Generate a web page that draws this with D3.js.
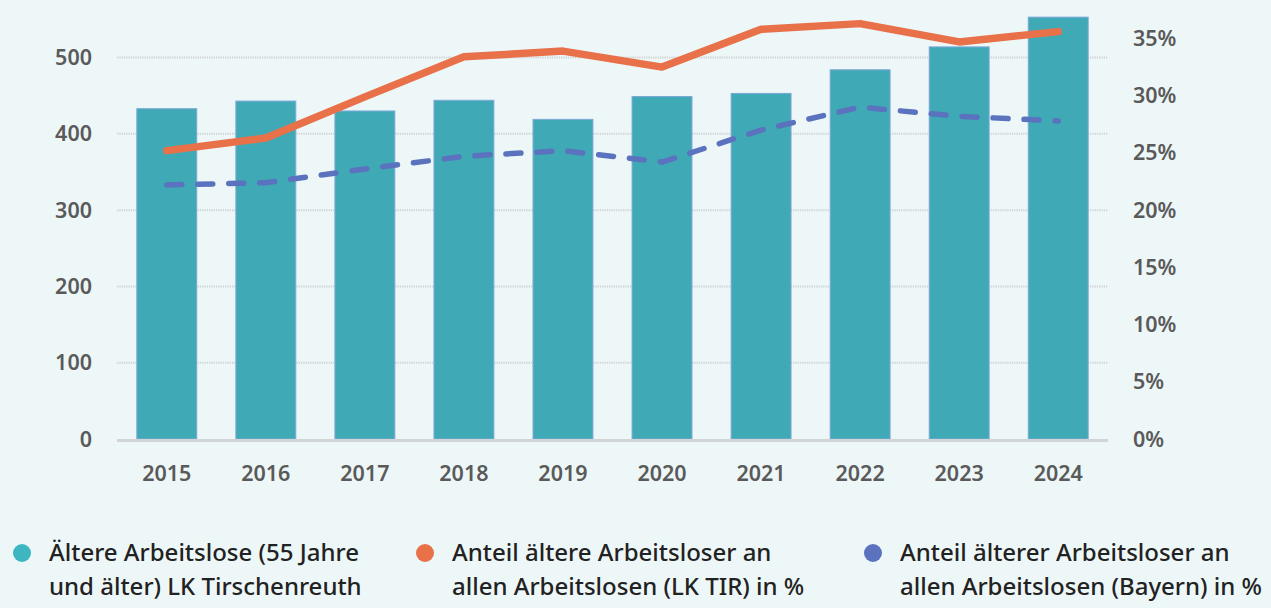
<!DOCTYPE html>
<html><head><meta charset="utf-8">
<script src="https://cdn.jsdelivr.net/npm/d3@7"></script>
<style>
html,body{margin:0;padding:0;background:#EEF7F8;}
svg{display:block;}
</style></head>
<body>
<svg id="c" width="1271" height="608"></svg>
<script>
const years = ["2015","2016","2017","2018","2019","2020","2021","2022","2023","2024"];
const aeltere = [433,443,430,444,419,449,453,484,514,553];
const anteilTIR = [25.2,26.3,29.9,33.4,33.9,32.5,35.8,36.3,34.7,35.6];
const anteilBY = [22.2,22.4,23.6,24.7,25.2,24.2,27.0,29.0,28.2,27.8];
const leftTicks = [0,100,200,300,400,500];
const rightTicks = [0,5,10,15,20,25,30,35];
const legendItems = [
  ["Ältere Arbeitslose (55 Jahre","und älter) LK Tirschenreuth"],
  ["Anteil ältere Arbeitsloser an","allen Arbeitslosen (LK TIR) in %"],
  ["Anteil älterer Arbeitsloser an","allen Arbeitslosen (Bayern) in %"]
];
const colors = ["#3FAAB6","#E8714A","#5B72BE"];
const legendDot = ["#3DB6C1","#E8714A","#5B72BE"];

const svg = d3.select("#c");
const x0 = 117, x1 = 1108, yBase = 439, yTop = 38.5;
const x = d3.scaleBand().domain(years).range([x0,x1]).paddingInner(0.395).paddingOuter(0.2);
const yL = d3.scaleLinear().domain([0,525]).range([yBase,yTop]);
const yR = d3.scaleLinear().domain([0,35]).range([yBase,yTop]);

// gridlines
svg.append("g").selectAll("line").data(leftTicks.slice(1)).join("line")
  .attr("x1",x0).attr("x2",x1).attr("y1",d=>yL(d)).attr("y2",d=>yL(d))
  .attr("stroke","#cfd3d4").attr("stroke-width",2).attr("stroke-dasharray","1.3,1");

// bars
svg.append("g").selectAll("rect").data(aeltere).join("rect")
  .attr("x",(d,i)=>x(years[i])).attr("width",x.bandwidth())
  .attr("y",d=>yL(d)).attr("height",d=>yBase-yL(d))
  .attr("fill",colors[0]).attr("stroke","#7FA8D8").attr("stroke-width",1);

// baseline
svg.append("line").attr("x1",x0).attr("x2",x1).attr("y1",yBase+1.5).attr("y2",yBase+1.5)
  .attr("stroke","#d2d5d6").attr("stroke-width",3);

const cx = i => x(years[i]) + x.bandwidth()/2;
const line = d3.line().x((d,i)=>cx(i)).y(d=>yR(d));

svg.append("path").datum(anteilBY).attr("d",line).attr("fill","none")
  .attr("stroke",colors[2]).attr("stroke-width",5.5).attr("stroke-linecap","round")
  .attr("stroke-dasharray","15,16");
svg.append("path").datum(anteilTIR).attr("d",line).attr("fill","none")
  .attr("stroke",colors[1]).attr("stroke-width",7.5).attr("stroke-linecap","round")
  .attr("stroke-linejoin","round");

// axes labels
const axFont = "'Noto Sans', sans-serif";
const axSize = 21.5;
svg.append("g").selectAll("text").data(leftTicks).join("text")
  .attr("x",92).attr("y",d=>yL(d)).attr("dy","0.35em").attr("text-anchor","end")
  .attr("font-family",axFont).attr("font-weight",600).attr("font-size",axSize).attr("fill","#5a5a5a")
  .text(d=>d);
svg.append("g").selectAll("text").data(rightTicks).join("text")
  .attr("x",1133).attr("y",d=>yR(d)).attr("dy","0.35em").attr("text-anchor","start")
  .attr("font-family",axFont).attr("font-weight",600).attr("font-size",axSize).attr("fill","#5a5a5a")
  .text(d=>d+"%");
svg.append("g").selectAll("text").data(years).join("text")
  .attr("x",d=>x(d)+x.bandwidth()/2).attr("y",473).attr("dy","0.35em").attr("text-anchor","middle")
  .attr("font-family",axFont).attr("font-weight",600).attr("font-size",axSize).attr("fill","#5a5a5a")
  .text(d=>d);

// legend
const lx = [22,425,873];
const lg = svg.append("g");
legendItems.forEach((lines,i)=>{
  lg.append("circle").attr("cx",lx[i]).attr("cy",553).attr("r",9).attr("fill",legendDot[i]);
  const t = lg.append("text").attr("x",lx[i]+27).attr("y",553)
    .attr("font-family","'Noto Sans', sans-serif").attr("font-weight",500).attr("font-size",24).attr("fill","#222");
  lines.forEach((s,j)=>t.append("tspan").attr("x",lx[i]+27).attr("dy",j===0?"0.35em":"1.42em").text(s));
});
</script>
</body></html>
